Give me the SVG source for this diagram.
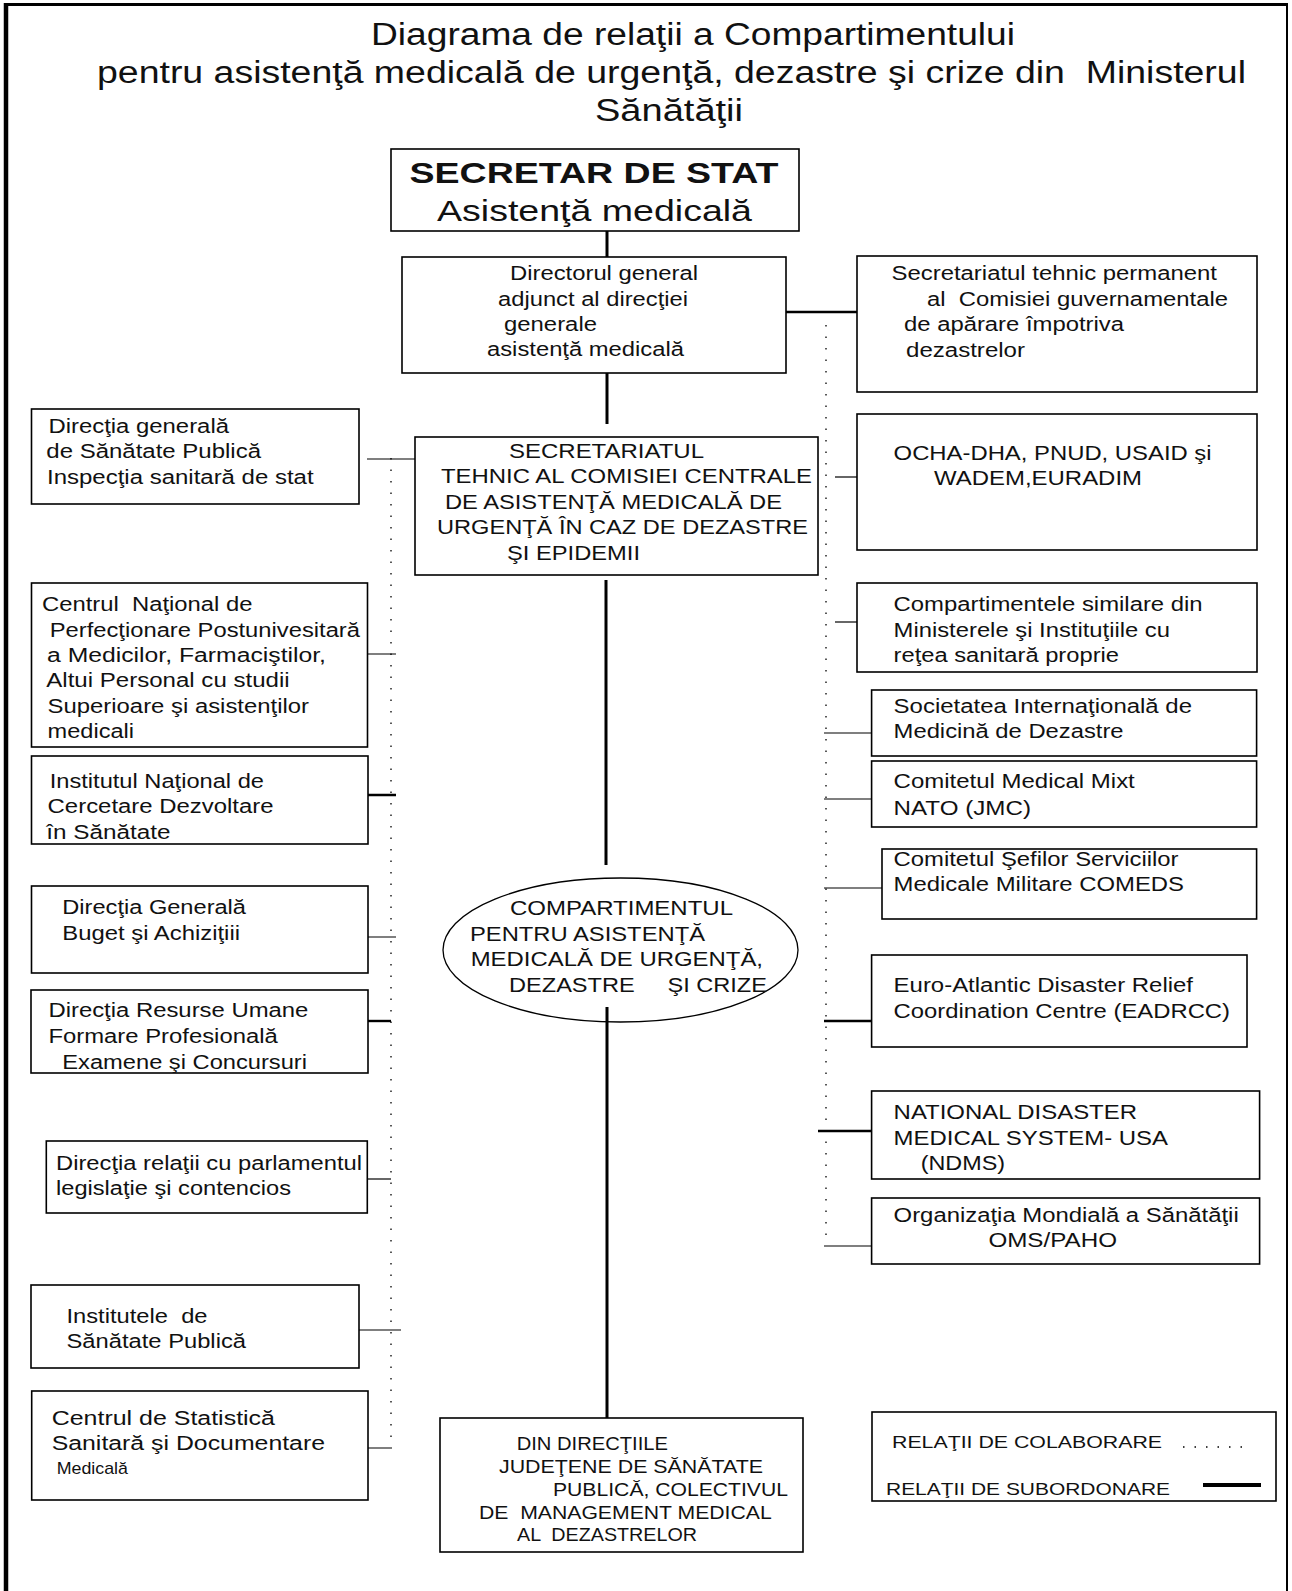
<svg xmlns="http://www.w3.org/2000/svg" width="1292" height="1591" viewBox="0 0 1292 1591" xml:space="preserve">
<style>
text{font-family:"Liberation Sans",Arial,sans-serif;fill:#111;white-space:pre}
.t{font-size:20px}
.s{font-size:18px}
.l{font-size:17px}
.title{font-size:31px}
.big{font-size:30px}
.b{font-weight:bold}
.box{fill:#fff;stroke:#000;stroke-width:1.6}
.sub{stroke:#000;stroke-width:3;fill:none}
.sub2{stroke:#000;stroke-width:2.4;fill:none}
.col{stroke:#000;stroke-width:1.2;fill:none}
.dot{stroke:#000;stroke-width:1.3;stroke-dasharray:1.5 10;fill:none}
.frame{stroke:#000;fill:none}
</style>
<g id="frame">
<line class="frame" x1="6" y1="3" x2="6" y2="1591" stroke-width="4.5"/>
<line class="frame" x1="4" y1="4.5" x2="1288" y2="4.5" stroke-width="3"/>
<line class="frame" x1="1287" y1="4" x2="1287" y2="1591" stroke-width="2"/>
</g>
<g id="title">
<text class="title" x="371" y="45" textLength="644" lengthAdjust="spacingAndGlyphs">Diagrama de relaţii a Compartimentului</text>
<text class="title" x="97" y="83" textLength="1149" lengthAdjust="spacingAndGlyphs">pentru asistenţă medicală de urgenţă, dezastre şi crize din  Ministerul</text>
<text class="title" x="595" y="121" textLength="148" lengthAdjust="spacingAndGlyphs">Sănătăţii</text>
</g>
<g id="connectors">
<line class="sub" x1="607" y1="225" x2="607" y2="267"/>
<line class="sub" x1="607" y1="372" x2="607" y2="424"/>
<line class="sub" x1="606" y1="580" x2="606" y2="865"/>
<line class="sub" x1="607" y1="1007" x2="607" y2="1418"/>
<line class="sub2" x1="786" y1="312" x2="857" y2="312"/>
<line class="sub2" x1="357" y1="795" x2="396" y2="795"/>
<line class="sub2" x1="368" y1="1021" x2="391" y2="1021"/>
<line class="sub2" x1="824" y1="1021" x2="872" y2="1021"/>
<line class="sub2" x1="818" y1="1131" x2="876" y2="1131"/>
<line class="col" x1="367" y1="459" x2="415" y2="459"/>
<line class="col" x1="357" y1="654" x2="396" y2="654"/>
<line class="col" x1="357" y1="937" x2="396" y2="937"/>
<line class="col" x1="367" y1="1179" x2="391" y2="1179"/>
<line class="col" x1="342" y1="1330" x2="401" y2="1330"/>
<line class="col" x1="343" y1="1448" x2="392" y2="1448"/>
<line class="col" x1="835" y1="477" x2="857" y2="477"/>
<line class="col" x1="835" y1="622" x2="857" y2="622"/>
<line class="col" x1="824" y1="733" x2="872" y2="733"/>
<line class="col" x1="824" y1="799" x2="872" y2="799"/>
<line class="col" x1="824" y1="888" x2="882" y2="888"/>
<line class="col" x1="824" y1="1246" x2="872" y2="1246"/>
<line class="dot" x1="391" y1="458" x2="391" y2="1442"/>
<line class="dot" x1="826" y1="325" x2="826" y2="1237"/>
</g>
<g id="secretar-stat">
<rect class="box" x="391" y="149" width="408" height="82" stroke-width="2"/>
<text class="big b" x="409.5" y="183" textLength="369" lengthAdjust="spacingAndGlyphs">SECRETAR DE STAT</text>
<text class="big" x="437" y="221" textLength="315" lengthAdjust="spacingAndGlyphs">Asistenţă medicală</text>
</g>
<g id="director-general">
<rect class="box" x="402" y="257" width="384" height="116"/>
<text class="t" x="510" y="280" textLength="188" lengthAdjust="spacingAndGlyphs">Directorul general</text>
<text class="t" x="498" y="306" textLength="190" lengthAdjust="spacingAndGlyphs">adjunct al direcţiei</text>
<text class="t" x="504" y="331" textLength="93" lengthAdjust="spacingAndGlyphs">generale</text>
<text class="t" x="487" y="356" textLength="197" lengthAdjust="spacingAndGlyphs">asistenţă medicală</text>
</g>
<g id="secretariat-permanent">
<rect class="box" x="857" y="256" width="400" height="136" stroke-width="2"/>
<text class="t" x="891.5" y="280" textLength="325.5" lengthAdjust="spacingAndGlyphs">Secretariatul tehnic permanent</text>
<text class="t" x="927" y="306" textLength="301" lengthAdjust="spacingAndGlyphs">al  Comisiei guvernamentale</text>
<text class="t" x="904" y="331" textLength="220" lengthAdjust="spacingAndGlyphs">de apărare împotriva</text>
<text class="t" x="906" y="357" textLength="119" lengthAdjust="spacingAndGlyphs">dezastrelor</text>
</g>
<g id="secretariatul-comisiei">
<rect class="box" x="415" y="437" width="403" height="138"/>
<text class="t" x="509" y="458" textLength="195" lengthAdjust="spacingAndGlyphs">SECRETARIATUL</text>
<text class="t" x="441" y="483" textLength="371" lengthAdjust="spacingAndGlyphs">TEHNIC AL COMISIEI CENTRALE</text>
<text class="t" x="445" y="509" textLength="337" lengthAdjust="spacingAndGlyphs">DE ASISTENŢĂ MEDICALĂ DE</text>
<text class="t" x="437" y="534" textLength="371" lengthAdjust="spacingAndGlyphs">URGENŢĂ ÎN CAZ DE DEZASTRE</text>
<text class="t" x="507" y="560" textLength="133" lengthAdjust="spacingAndGlyphs">ŞI EPIDEMII</text>
</g>
<g id="dg-sanatate-publica">
<rect class="box" x="31.5" y="409" width="327.5" height="95"/>
<text class="t" x="48.4" y="433" textLength="180.6" lengthAdjust="spacingAndGlyphs">Direcţia generală</text>
<text class="t" x="46.3" y="458" textLength="214.7" lengthAdjust="spacingAndGlyphs">de Sănătate Publică</text>
<text class="t" x="47" y="484" textLength="266.6" lengthAdjust="spacingAndGlyphs">Inspecţia sanitară de stat</text>
</g>
<g id="centrul-national">
<rect class="box" x="31.5" y="583" width="336" height="164"/>
<text class="t" x="42" y="611" textLength="210.5" lengthAdjust="spacingAndGlyphs">Centrul  Naţional de</text>
<text class="t" x="49.7" y="637" textLength="310.3" lengthAdjust="spacingAndGlyphs">Perfecţionare Postunivesitară</text>
<text class="t" x="47" y="662" textLength="279" lengthAdjust="spacingAndGlyphs">a Medicilor, Farmaciştilor,</text>
<text class="t" x="46.3" y="687" textLength="243.3" lengthAdjust="spacingAndGlyphs">Altui Personal cu studii</text>
<text class="t" x="47.6" y="713" textLength="261.4" lengthAdjust="spacingAndGlyphs">Superioare şi asistenţilor</text>
<text class="t" x="47.6" y="738" textLength="86.4" lengthAdjust="spacingAndGlyphs">medicali</text>
</g>
<g id="institutul-national">
<rect class="box" x="31.5" y="756" width="336.5" height="88"/>
<text class="t" x="49.7" y="788" textLength="214.3" lengthAdjust="spacingAndGlyphs">Institutul Naţional de</text>
<text class="t" x="47.6" y="813" textLength="226" lengthAdjust="spacingAndGlyphs">Cercetare Dezvoltare</text>
<text class="t" x="46.3" y="839" textLength="124.2" lengthAdjust="spacingAndGlyphs">în Sănătate</text>
</g>
<g id="dg-buget">
<rect class="box" x="31.5" y="886" width="336.5" height="87"/>
<text class="t" x="62.3" y="914" textLength="183.7" lengthAdjust="spacingAndGlyphs">Direcţia Generală</text>
<text class="t" x="62.3" y="940" textLength="177.7" lengthAdjust="spacingAndGlyphs">Buget şi Achiziţiii</text>
</g>
<g id="resurse-umane">
<rect class="box" x="31" y="990" width="337" height="83"/>
<text class="t" x="48.4" y="1017" textLength="260" lengthAdjust="spacingAndGlyphs">Direcţia Resurse Umane</text>
<text class="t" x="48.4" y="1043" textLength="229.4" lengthAdjust="spacingAndGlyphs">Formare Profesională</text>
<text class="t" x="62.3" y="1069" textLength="244.7" lengthAdjust="spacingAndGlyphs">Examene şi Concursuri</text>
</g>
<g id="relatii-parlament">
<rect class="box" x="46.3" y="1141" width="321" height="72"/>
<text class="t" x="56" y="1170" textLength="306" lengthAdjust="spacingAndGlyphs">Direcţia relaţii cu parlamentul</text>
<text class="t" x="56" y="1195" textLength="235" lengthAdjust="spacingAndGlyphs">legislaţie şi contencios</text>
</g>
<g id="institutele-sp">
<rect class="box" x="31" y="1285" width="328" height="83"/>
<text class="t" x="66.5" y="1323" textLength="141" lengthAdjust="spacingAndGlyphs">Institutele  de</text>
<text class="t" x="66.5" y="1348" textLength="179.5" lengthAdjust="spacingAndGlyphs">Sănătate Publică</text>
</g>
<g id="centrul-statistica">
<rect class="box" x="31.7" y="1391" width="336.3" height="109" stroke-width="2"/>
<text class="t" x="51.7" y="1425" textLength="223.3" lengthAdjust="spacingAndGlyphs">Centrul de Statistică</text>
<text class="t" x="51.7" y="1450" textLength="273.3" lengthAdjust="spacingAndGlyphs">Sanitară şi Documentare</text>
<text class="l" x="56.7" y="1474" textLength="71.3" lengthAdjust="spacingAndGlyphs">Medicală</text>
</g>
<g id="compartimentul">
<ellipse cx="620.5" cy="950" rx="177.5" ry="72" fill="none" stroke="#000" stroke-width="1.3"/>
<text class="t" x="510" y="915" textLength="223" lengthAdjust="spacingAndGlyphs">COMPARTIMENTUL</text>
<text class="t" x="470" y="941" textLength="235" lengthAdjust="spacingAndGlyphs">PENTRU ASISTENŢĂ</text>
<text class="t" x="470.7" y="966" textLength="292.3" lengthAdjust="spacingAndGlyphs">MEDICALĂ DE URGENŢĂ,</text>
<text class="t" x="509" y="992" textLength="258" lengthAdjust="spacingAndGlyphs">DEZASTRE     ŞI CRIZE</text>
</g>
<g id="directii-judetene">
<rect class="box" x="440" y="1418" width="363" height="134"/>
<text class="s" x="516.7" y="1450" textLength="151.3" lengthAdjust="spacingAndGlyphs">DIN DIRECŢIILE</text>
<text class="s" x="499" y="1473" textLength="264" lengthAdjust="spacingAndGlyphs">JUDEŢENE DE SĂNĂTATE</text>
<text class="s" x="553" y="1496" textLength="235" lengthAdjust="spacingAndGlyphs">PUBLICĂ, COLECTIVUL</text>
<text class="s" x="479" y="1519" textLength="292.7" lengthAdjust="spacingAndGlyphs">DE  MANAGEMENT MEDICAL</text>
<text class="s" x="517" y="1541" textLength="180" lengthAdjust="spacingAndGlyphs">AL  DEZASTRELOR</text>
</g>
<g id="ocha">
<rect class="box" x="857" y="414" width="400" height="136"/>
<text class="t" x="893.6" y="460" textLength="318" lengthAdjust="spacingAndGlyphs">OCHA-DHA, PNUD, USAID şi</text>
<text class="t" x="934" y="485" textLength="208" lengthAdjust="spacingAndGlyphs">WADEM,EURADIM</text>
</g>
<g id="compartimente-similare">
<rect class="box" x="857" y="583" width="400" height="89"/>
<text class="t" x="893.6" y="611" textLength="309" lengthAdjust="spacingAndGlyphs">Compartimentele similare din</text>
<text class="t" x="893.6" y="637" textLength="276.4" lengthAdjust="spacingAndGlyphs">Ministerele şi Instituţiile cu</text>
<text class="t" x="893.6" y="662" textLength="225.4" lengthAdjust="spacingAndGlyphs">reţea sanitară proprie</text>
</g>
<g id="societatea-internationala">
<rect class="box" x="871.6" y="690" width="385" height="66" stroke-width="2"/>
<text class="t" x="893.6" y="713" textLength="298.4" lengthAdjust="spacingAndGlyphs">Societatea Internaţională de</text>
<text class="t" x="893.6" y="738" textLength="230" lengthAdjust="spacingAndGlyphs">Medicină de Dezastre</text>
</g>
<g id="comitetul-medical">
<rect class="box" x="871.6" y="761" width="385" height="66" stroke-width="2"/>
<text class="t" x="893.6" y="788" textLength="241.2" lengthAdjust="spacingAndGlyphs">Comitetul Medical Mixt</text>
<text class="t" x="893.6" y="815" textLength="137.4" lengthAdjust="spacingAndGlyphs">NATO (JMC)</text>
</g>
<g id="comeds">
<rect class="box" x="882" y="849" width="374.6" height="70"/>
<text class="t" x="893.6" y="866" textLength="284.9" lengthAdjust="spacingAndGlyphs">Comitetul Şefilor Serviciilor</text>
<text class="t" x="893.6" y="891" textLength="290.4" lengthAdjust="spacingAndGlyphs">Medicale Militare COMEDS</text>
</g>
<g id="eadrcc">
<rect class="box" x="871.6" y="955" width="375.4" height="92"/>
<text class="t" x="893.6" y="992" textLength="299.4" lengthAdjust="spacingAndGlyphs">Euro-Atlantic Disaster Relief</text>
<text class="t" x="893.6" y="1018" textLength="336.4" lengthAdjust="spacingAndGlyphs">Coordination Centre (EADRCC)</text>
</g>
<g id="ndms">
<rect class="box" x="871.6" y="1091" width="388" height="88"/>
<text class="t" x="893.6" y="1119" textLength="243.4" lengthAdjust="spacingAndGlyphs">NATIONAL DISASTER</text>
<text class="t" x="893.6" y="1145" textLength="274.4" lengthAdjust="spacingAndGlyphs">MEDICAL SYSTEM- USA</text>
<text class="t" x="920.7" y="1170" textLength="84.3" lengthAdjust="spacingAndGlyphs">(NDMS)</text>
</g>
<g id="oms">
<rect class="box" x="871.6" y="1198" width="388" height="66" stroke-width="2"/>
<text class="t" x="893.6" y="1222" textLength="345.1" lengthAdjust="spacingAndGlyphs">Organizaţia Mondială a Sănătăţii</text>
<text class="t" x="988.4" y="1247" textLength="128.6" lengthAdjust="spacingAndGlyphs">OMS/PAHO</text>
</g>
<g id="legend">
<rect class="box" x="872" y="1412" width="404" height="89" stroke-width="2"/>
<text class="l" x="892" y="1448" textLength="270" lengthAdjust="spacingAndGlyphs">RELAŢII DE COLABORARE</text>
<line class="dot" x1="1183" y1="1447" x2="1250" y2="1447" stroke-dasharray="1.5 12"/>
<text class="l" x="886" y="1495" textLength="284" lengthAdjust="spacingAndGlyphs">RELAŢII DE SUBORDONARE</text>
<line x1="1203" y1="1485" x2="1261" y2="1485" stroke="#000" stroke-width="4"/>
</g>
</svg>
